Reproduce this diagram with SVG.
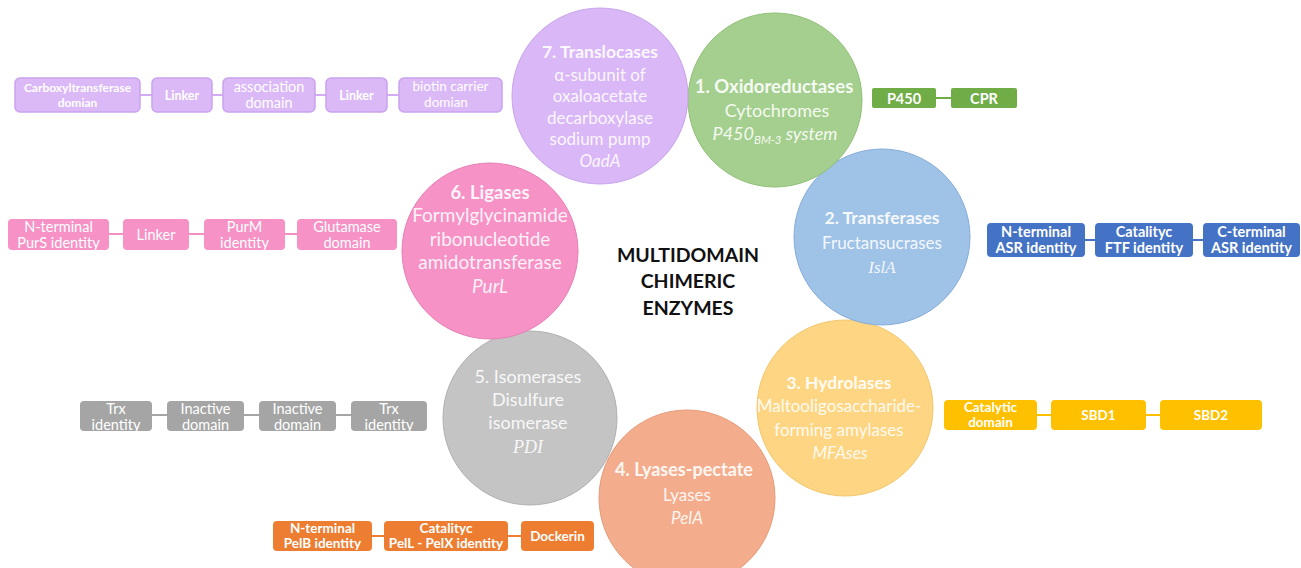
<svg xmlns="http://www.w3.org/2000/svg" width="1301" height="568" viewBox="0 0 1301 568">
<style>
.t{font-family:Lato,"Liberation Sans",sans-serif;fill:#fff;text-anchor:middle}
.ct{font-size:17.5px;font-weight:bold;fill-opacity:0.92}
.cb{font-size:17px;fill-opacity:0.9}
.it{font-style:italic}
.ser{font-family:"Liberation Serif",serif;font-style:italic}
.bx{font-size:13px;font-weight:bold}
.bxr{font-size:14.5px}
.center{font-family:Lato,"Liberation Sans",sans-serif;font-weight:bold;font-size:19.5px;fill:#111;text-anchor:middle}
.cn{stroke-width:2;fill:none}
.pb{fill:#dbb9f7;stroke:#caa2ee;stroke-width:1.5}
</style>
<rect width="1301" height="568" fill="#fff"/>

<!-- circles -->
<g id="c4"><circle cx="687" cy="498" r="88" fill="#f4ad8c" stroke="#e59a78" stroke-width="1"/>
<text class="t ct" style="font-size:18px" x="684" y="476">4. Lyases-pectate</text>
<text class="t cb" x="687" y="501">Lyases</text>
<text class="t cb it" x="687" y="524">PelA</text></g>
<g id="c5"><circle cx="530" cy="418" r="87" fill="#c4c4c4" stroke="#b0b0b0" stroke-width="1"/>
<text class="t cb" style="font-size:18px" x="528" y="383">5. Isomerases</text>
<text class="t cb" style="font-size:18px" x="528" y="406">Disulfure</text>
<text class="t cb" style="font-size:18px" x="528" y="429">isomerase</text>
<text class="t cb ser" style="font-size:18px" x="528" y="453">PDI</text></g>
<g id="c3"><circle cx="845" cy="408" r="88" fill="#fed683" stroke="#f0c76b" stroke-width="1"/>
<text class="t ct" x="839" y="389">3. Hydrolases</text>
<text class="t cb" x="839" y="412">Maltooligosaccharide-</text>
<text class="t cb" x="839" y="436">forming amylases</text>
<text class="t cb it" x="840" y="459">MFAses</text></g>
<g id="c2"><circle cx="882" cy="237" r="88" fill="#9fc2e7" stroke="#86acd8" stroke-width="1"/>
<text class="t ct" x="882" y="224">2. Transferases</text>
<text class="t cb" x="882" y="249">Fructansucrases</text>
<text class="t cb ser" x="882" y="273">IslA</text></g>
<g id="c6"><circle cx="490" cy="251" r="88" fill="#f692c6" stroke="#e77fb4" stroke-width="1"/>
<text class="t ct" style="font-size:18.5px" x="490" y="199">6. Ligases</text>
<text class="t cb" style="font-size:19px" x="490" y="222">Formylglycinamide</text>
<text class="t cb" style="font-size:19px" x="490" y="246">ribonucleotide</text>
<text class="t cb" style="font-size:19px" x="490" y="269">amidotransferase</text>
<text class="t cb it" style="font-size:19px" x="490" y="293">PurL</text></g>
<g id="c1"><circle cx="775" cy="100" r="87" fill="#a5cf8e" stroke="#8fbf75" stroke-width="1"/>
<text class="t ct" style="font-size:18.5px" x="774" y="93">1. Oxidoreductases</text>
<text class="t cb" style="font-size:18px" x="777" y="117">Cytochromes</text>
<text class="t cb it" style="font-size:18px" x="775" y="140">P450<tspan style="font-size:11.5px" dy="4">BM-3</tspan><tspan dy="-4"> system</tspan></text></g>
<g id="c7"><circle cx="600" cy="96" r="88" fill="#dab8f7" stroke="#c9a3ea" stroke-width="1"/>
<text class="t ct" x="600" y="58">7. Translocases</text>
<text class="t cb" x="600" y="81">α-subunit of</text>
<text class="t cb" x="600" y="102">oxaloacetate</text>
<text class="t cb" x="600" y="124">decarboxylase</text>
<text class="t cb" x="600" y="145">sodium pump</text>
<text class="t cb it" x="600" y="167">OadA</text></g>

<g id="title">
<text class="center" x="688" y="262">MULTIDOMAIN</text>
<text class="center" x="688" y="288">CHIMERIC</text>
<text class="center" x="688" y="315">ENZYMES</text>
</g>

<!-- connectors -->
<g id="connectors">
<g stroke="#d3acf3" class="cn"><line x1="140" y1="95" x2="152" y2="95"/><line x1="212" y1="95" x2="223" y2="95"/><line x1="315" y1="95" x2="326" y2="95"/><line x1="387" y1="95" x2="399" y2="95"/></g>
<g stroke="#70ad47" class="cn"><line x1="936" y1="98" x2="951" y2="98"/></g>
<g stroke="#f48fc3" class="cn"><line x1="109" y1="234" x2="123" y2="234"/><line x1="189" y1="234" x2="204" y2="234"/><line x1="285" y1="234" x2="297" y2="234"/></g>
<g stroke="#4472c4" class="cn"><line x1="1085" y1="240" x2="1095" y2="240"/><line x1="1193" y1="240" x2="1203" y2="240"/></g>
<g stroke="#a5a5a5" class="cn"><line x1="152" y1="415" x2="167" y2="415"/><line x1="244" y1="415" x2="259" y2="415"/><line x1="336" y1="415" x2="351" y2="415"/></g>
<g stroke="#ffc000" class="cn"><line x1="1037" y1="415" x2="1051" y2="415"/><line x1="1146" y1="415" x2="1160" y2="415"/></g>
<g stroke="#ed7d31" class="cn"><line x1="372" y1="536" x2="384" y2="536"/><line x1="508" y1="536" x2="521" y2="536"/></g>
</g>

<!-- purple chain -->
<g id="p1"><rect class="pb" x="15" y="78" width="125" height="34" rx="5"/>
<text class="t" font-weight="bold" font-size="12" x="77.5" y="92">Carboxyltransferase</text><text class="t" font-weight="bold" font-size="12" x="77.5" y="107">domian</text></g>
<g id="p2"><rect class="pb" x="152" y="78" width="60" height="34" rx="5"/>
<text class="t" font-weight="bold" font-size="12.5" x="182" y="99.5">Linker</text></g>
<g id="p3"><rect class="pb" x="223" y="78" width="92" height="34" rx="5"/>
<text class="t" font-size="14.5" x="269" y="92">association</text><text class="t" font-size="14.5" x="269" y="108">domain</text></g>
<g id="p4"><rect class="pb" x="326" y="78" width="61" height="34" rx="5"/>
<text class="t" font-weight="bold" font-size="12.5" x="356.5" y="99.5">Linker</text></g>
<g id="p5"><rect class="pb" x="399" y="78" width="103" height="34" rx="5"/>
<text class="t" font-size="13.5" x="450.5" y="91">biotin carrier</text><text class="t" font-size="13.5" x="446" y="107">domian</text></g>

<!-- green chain -->
<g id="g1"><rect x="872" y="88" width="64" height="20" rx="2" fill="#70ad47"/>
<text class="t" font-weight="bold" font-size="14.5" x="904" y="103.5">P450</text></g>
<g id="g2"><rect x="951" y="88" width="66" height="20" rx="2" fill="#70ad47"/>
<text class="t" font-weight="bold" font-size="14.5" x="984" y="103.5">CPR</text></g>

<!-- pink chain -->
<g id="k1"><rect x="8" y="219" width="101" height="31" rx="4" fill="#f692c6"/>
<text class="t bxr" x="58.5" y="232">N-terminal</text><text class="t bxr" x="58.5" y="248">PurS identity</text></g>
<g id="k2"><rect x="123" y="219" width="66" height="31" rx="4" fill="#f692c6"/>
<text class="t bxr" x="156" y="240">Linker</text></g>
<g id="k3"><rect x="204" y="219" width="81" height="31" rx="4" fill="#f692c6"/>
<text class="t bxr" x="244.5" y="232">PurM</text><text class="t bxr" x="244.5" y="248">identity</text></g>
<g id="k4"><rect x="297" y="219" width="100" height="31" rx="4" fill="#f692c6"/>
<text class="t bxr" x="347" y="232">Glutamase</text><text class="t bxr" x="347" y="248">domain</text></g>

<!-- blue chain -->
<g id="b1"><rect x="987" y="223" width="98" height="34" rx="4" fill="#4472c4"/>
<text class="t bx" style="font-size:14.5px" x="1036" y="237">N-terminal</text><text class="t bx" style="font-size:14.5px" x="1036" y="253">ASR identity</text></g>
<g id="b2"><rect x="1095" y="223" width="98" height="34" rx="4" fill="#4472c4"/>
<text class="t bx" style="font-size:14.5px" x="1144" y="237">Catalityc</text><text class="t bx" style="font-size:14.5px" x="1144" y="253">FTF identity</text></g>
<g id="b3"><rect x="1203" y="223" width="97" height="34" rx="4" fill="#4472c4"/>
<text class="t bx" style="font-size:14.5px" x="1251.5" y="237">C-terminal</text><text class="t bx" style="font-size:14.5px" x="1251.5" y="253">ASR identity</text></g>

<!-- gray chain -->
<g id="y1"><rect x="80" y="401" width="72" height="30" rx="4" fill="#a5a5a5"/>
<text class="t bxr" x="116" y="414">Trx</text><text class="t bxr" x="116" y="430">identity</text></g>
<g id="y2"><rect x="167" y="401" width="77" height="30" rx="4" fill="#a5a5a5"/>
<text class="t bxr" x="205.5" y="414">Inactive</text><text class="t bxr" x="205.5" y="430">domain</text></g>
<g id="y3"><rect x="259" y="401" width="77" height="30" rx="4" fill="#a5a5a5"/>
<text class="t bxr" x="297.5" y="414">Inactive</text><text class="t bxr" x="297.5" y="430">domain</text></g>
<g id="y4"><rect x="351" y="401" width="76" height="30" rx="4" fill="#a5a5a5"/>
<text class="t bxr" x="389" y="414">Trx</text><text class="t bxr" x="389" y="430">identity</text></g>

<!-- yellow chain -->
<g id="h1"><rect x="944" y="400" width="93" height="30" rx="4" fill="#ffc000"/>
<text class="t bx" style="font-size:13.5px" x="990.5" y="412">Catalytic</text><text class="t bx" style="font-size:13.5px" x="990.5" y="427">domain</text></g>
<g id="h2"><rect x="1051" y="400" width="95" height="30" rx="4" fill="#ffc000"/>
<text class="t bx" style="font-size:13.5px" x="1098.5" y="420">SBD1</text></g>
<g id="h3"><rect x="1160" y="400" width="102" height="30" rx="4" fill="#ffc000"/>
<text class="t bx" style="font-size:13.5px" x="1211" y="420">SBD2</text></g>

<!-- orange chain -->
<g id="o1"><rect x="273" y="521" width="99" height="30" rx="4" fill="#ed7d31"/>
<text class="t bx" style="font-size:13.5px" x="322.5" y="533">N-terminal</text><text class="t bx" style="font-size:13.5px" x="322.5" y="548">PelB identity</text></g>
<g id="o2"><rect x="384" y="521" width="124" height="30" rx="4" fill="#ed7d31"/>
<text class="t bx" style="font-size:13.5px" x="446" y="533">Catalityc</text><text class="t bx" style="font-size:13.5px" x="446" y="548">PelL - PelX identity</text></g>
<g id="o3"><rect x="521" y="521" width="73" height="30" rx="4" fill="#ed7d31"/>
<text class="t bx" style="font-size:13.5px" x="557.5" y="541">Dockerin</text></g>
</svg>
